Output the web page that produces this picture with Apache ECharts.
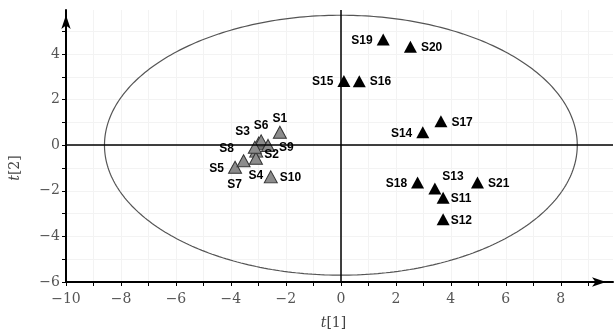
<!DOCTYPE html>
<html>
<head>
<meta charset="utf-8">
<script src="https://cdn.jsdelivr.net/npm/echarts@6/dist/echarts.min.js"></script>
<style>html,body{margin:0;padding:0;background:#fff}#c{width:614px;height:333px}</style>
</head>
<body>
<div id="c"></div>
<script>
// ---- data ----
const groupANames = ['S1','S2','S3','S4','S5','S6','S7','S8','S9','S10'];
const groupAT1 = [-2.22,-3.08,-2.99,-3.09,-3.85,-2.90,-3.54,-3.13,-2.65,-2.55];
const groupAT2 = [0.57,-0.26,0.09,-0.57,-0.97,0.19,-0.68,-0.09,-0.01,-1.39];

const groupBNames = ['S11','S12','S13','S14','S15','S16','S17','S18','S19','S20','S21'];
const groupBT1 = [3.72,3.72,3.42,2.98,0.11,0.67,3.64,2.79,1.54,2.53,4.97];
const groupBT2 = [-2.31,-3.25,-1.90,0.57,2.82,2.81,1.05,-1.64,4.64,4.32,-1.64];

const xTickLabels = [-10,-8,-6,-4,-2,0,2,4,6,8];
const yTickLabels = [-6,-4,-2,0,2,4];
const xMinorTicks = [-10,-9,-8,-7,-6,-5,-4,-3,-2,-1,0,1,2,3,4,5,6,7,8,9];
const yMinorTicks = [-6,-5,-4,-3,-2,-1,0,1,2,3,4,5];

// Hotelling T2 ellipse semi-axes
const ellipseA = 8.6;
const ellipseB = 5.7;

// ---- label placement (style only) ----
const labelPlace = {
  S1:['top',[0,3]], S2:['right',[-3,4]], S3:['top',[-16,5]], S4:['bottom',[0,1]],
  S5:['left',[0,1]], S6:['top',[0,1]], S7:['bottom',[-9,8]], S8:['left',[-10,1]],
  S9:['right',[0,2]], S10:['right',[-2,1]],
  S11:['right',[-3,1]], S12:['right',[-3,1]], S13:['top',[18,4]], S14:['left',[0,1]],
  S15:['left',[0,1]], S16:['right',[0,1]], S17:['right',[0,1]], S18:['left',[0,1]],
  S19:['left',[0,1]], S20:['right',[0,1]], S21:['right',[0,1]]
};

function buildData(names, xs, ys) {
  return names.map((n, i) => {
    const p = labelPlace[n] || ['right',[0,0]];
    return { name: n, value: [xs[i], ys[i]], label: { position: p[0], offset: p[1] } };
  });
}

const ellipsePts = [];
for (let k = 0; k <= 360; k++) {
  const t = k * Math.PI / 180;
  ellipsePts.push([ellipseA * Math.cos(t), ellipseB * Math.sin(t)]);
}

const fmt = v => (v < 0 ? '\u2212' + Math.abs(v) : String(v));
const labelFont = { fontFamily: 'DejaVu Serif', fontSize: 14, color: '#555' };
const ptLabel = { show: true, formatter: '{b}', fontFamily: 'Liberation Sans', fontWeight: 'bold', fontSize: 12, color: '#000', distance: 4 };

const chart = echarts.init(document.getElementById('c'), null, { renderer: 'canvas' });
chart.setOption({
  animation: false,
  backgroundColor: '#fff',
  grid: { left: 66, right: 1, top: 10, bottom: 51, containLabel: false, outerBoundsMode: 'none' },
  xAxis: {
    type: 'value', min: -10, max: 9.9, interval: 2,
    name: '{i|t}[1]', nameLocation: 'middle', nameGap: 34,
    nameTextStyle: { fontFamily: 'DejaVu Serif', fontSize: 14, color: '#444', padding: [0, 12, 0, 0], rich: { i: { fontStyle: 'italic', fontFamily: 'DejaVu Serif', fontSize: 14, color: '#444' } } },
    axisLine: { show: true, onZero: false, lineStyle: { color: '#000', width: 2 }, symbol: ['none','arrow'], symbolSize: [7,14], symbolOffset: [0,-7] },
    axisTick: { show: true, inside: false, length: 4, customValues: xMinorTicks, lineStyle: { color: '#000', width: 1 } },
    axisLabel: Object.assign({ customValues: xTickLabels, margin: 10, formatter: fmt }, labelFont),
    splitLine: { show: true, lineStyle: { color: '#f3f3f3', width: 1 } }
  },
  yAxis: {
    type: 'value', min: -6, max: 5.93, interval: 2,
    name: '{i|t}[2]', nameLocation: 'middle', nameGap: 44, nameRotate: 90,
    nameTextStyle: { fontFamily: 'DejaVu Serif', fontSize: 14, color: '#444', padding: [0, 44, 0, 0], rich: { i: { fontStyle: 'italic', fontFamily: 'DejaVu Serif', fontSize: 14, color: '#444' } } },
    axisLine: { show: true, onZero: false, lineStyle: { color: '#000', width: 2 }, symbol: ['none','arrow'], symbolSize: [7,14], symbolOffset: [0,-5] },
    axisTick: { show: true, inside: false, length: 4, customValues: yMinorTicks, lineStyle: { color: '#000', width: 1 } },
    axisLabel: Object.assign({ customValues: yTickLabels, margin: 6, formatter: fmt }, labelFont),
    splitLine: { show: true, lineStyle: { color: '#f3f3f3', width: 1 } }
  },
  series: [
    {
      type: 'line', data: ellipsePts, showSymbol: false, smooth: false, silent: true,
      lineStyle: { color: '#555', width: 1.2 }, z: 1,
      markLine: {
        silent: true, symbol: ['none','none'], label: { show: false },
        lineStyle: { color: '#000', width: 1.5, type: 'solid' },
        data: [{ xAxis: 0 }, { yAxis: 0 }]
      }
    },
    {
      type: 'scatter', name: 'A', symbol: 'triangle', symbolSize: [13,12],
      itemStyle: { color: '#8c8c8c', borderColor: '#333', borderWidth: 1, opacity: 1 },
      label: ptLabel, data: buildData(groupANames, groupAT1, groupAT2), z: 3
    },
    {
      type: 'scatter', name: 'B', symbol: 'triangle', symbolSize: [13,12],
      itemStyle: { color: '#000', opacity: 1 },
      label: ptLabel, data: buildData(groupBNames, groupBT1, groupBT2), z: 3
    }
  ]
});
</script>
</body>
</html>
